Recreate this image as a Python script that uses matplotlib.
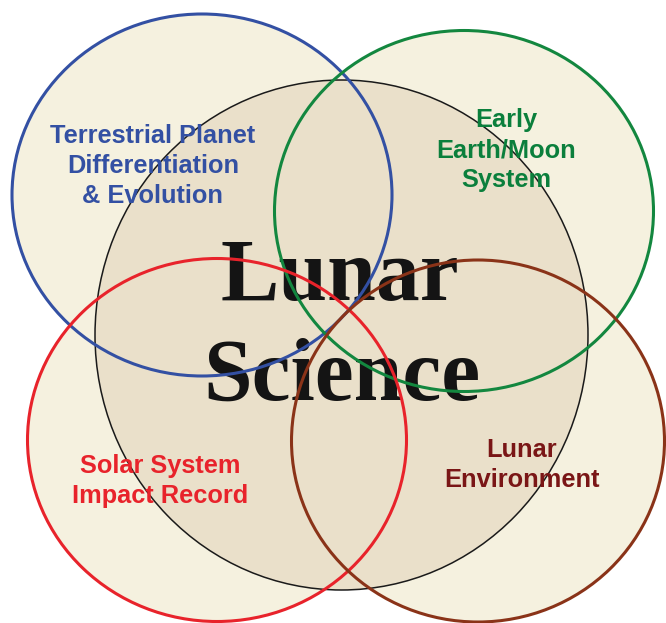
import matplotlib
matplotlib.use("Agg")
import matplotlib.pyplot as plt
from matplotlib.patches import Ellipse

# Topic labels (one per outer circle)
topics = ["Terrestrial Planet\nDifferentiation\n& Evolution",
          "Early\nEarth/Moon\nSystem",
          "Solar System\nImpact Record",
          "Lunar\nEnvironment"]
center_title = ["Lunar", "Science"]

# circle geometry in pixel coords (x, y, width, height)
circle_x = [202, 464, 217, 478]
circle_y = [195, 211, 440, 441]
circle_w = [380, 379, 379, 373]
circle_h = [362, 361, 363, 362]
line_colors = ["#3350a3", "#13873f", "#e8232b", "#8a3318"]
text_colors = ["#3350a3", "#0b7f3c", "#e8232b", "#7a1616"]
label_x = [153, 506, 160, 522]
label_y = [166, 150, 481, 465]

fig = plt.figure(figsize=(6.66, 6.23), dpi=100)
ax = fig.add_axes([0, 0, 1, 1])
ax.set_xlim(0, 666)
ax.set_ylim(623, 0)
ax.axis("off")

cream = "#f5f1df"
tan = "#eae0ca"

# outer fills
for i in range(4):
    ax.add_patch(Ellipse((circle_x[i], circle_y[i]), circle_w[i], circle_h[i],
                         facecolor=cream, edgecolor="none", zorder=1))

# central moon disc
ax.add_patch(Ellipse((341.5, 335), 493, 510, facecolor=tan,
                     edgecolor="#1a1a1a", linewidth=1.1, zorder=2))

# big title
ax.text(340, 300, center_title[0], ha="center", va="baseline",
        fontsize=63, fontweight="bold", family="Liberation Serif",
        color="#141414", zorder=3)
ax.text(342, 400, center_title[1], ha="center", va="baseline",
        fontsize=63, fontweight="bold", family="Liberation Serif",
        color="#141414", zorder=3)

# topic labels
for i in range(4):
    ax.text(label_x[i], label_y[i], topics[i], ha="center", va="center",
            fontsize=18.3, fontweight="bold", family="Liberation Sans",
            color=text_colors[i], linespacing=1.3, zorder=3)

# outlines on top
for i in range(4):
    ax.add_patch(Ellipse((circle_x[i], circle_y[i]), circle_w[i], circle_h[i],
                         facecolor="none", edgecolor=line_colors[i],
                         linewidth=2.2, zorder=4))

fig.savefig("out.png", dpi=100)
